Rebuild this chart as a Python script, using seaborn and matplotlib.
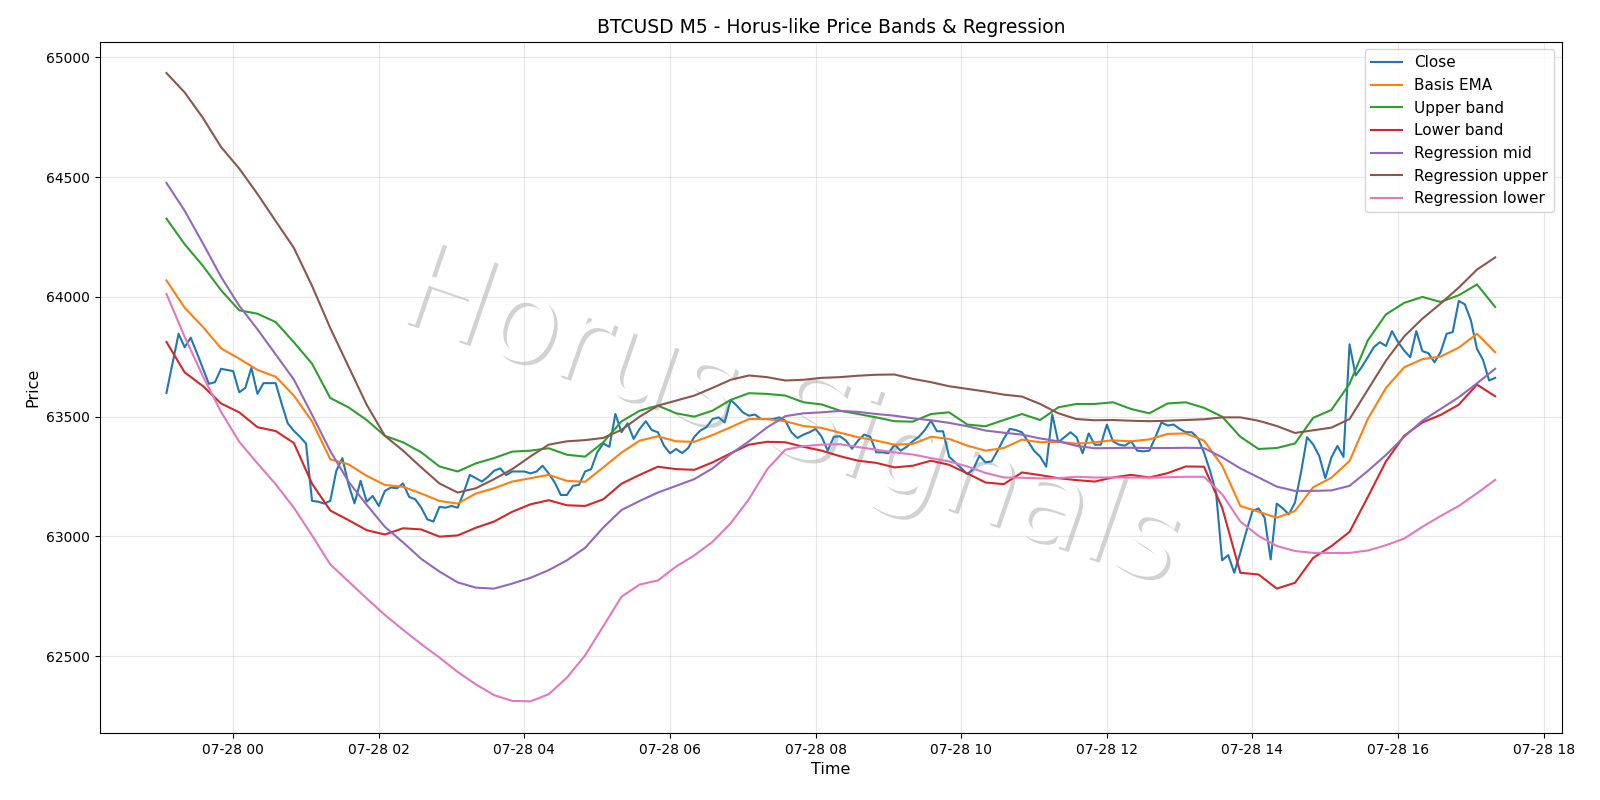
import matplotlib
matplotlib.use("Agg")
import matplotlib.pyplot as plt
import matplotlib.dates as mdates
import matplotlib.patheffects as pe
import pandas as pd
import seaborn as sns

# M5 closes, 23:05 -> 17:20
close = [
    63599, 63723, 63846, 63790, 63830, 63767, 63702, 63637, 63644, 63700,
    63695, 63690, 63602, 63620, 63704, 63595, 63640, 63640, 63640, 63553,
    63472, 63441, 63416, 63388, 63148, 63145, 63137, 63148, 63274, 63327,
    63218, 63138, 63232, 63145, 63169, 63127, 63190, 63204, 63201, 63221,
    63165, 63155, 63120, 63071, 63062, 63123, 63120, 63127, 63120, 63183,
    63257, 63243, 63229, 63249, 63274, 63284, 63256, 63271, 63271, 63271,
    63263, 63271, 63295, 63263, 63225, 63173, 63173, 63211, 63215, 63271,
    63281, 63351, 63388, 63374, 63511, 63435, 63472, 63407, 63449, 63481,
    63444, 63435, 63379, 63347, 63365, 63348, 63369, 63416, 63442, 63456,
    63490, 63497, 63476, 63570, 63546, 63518, 63504, 63509, 63490, 63490,
    63490, 63497, 63483, 63435, 63411, 63425, 63435, 63449, 63416, 63358,
    63416, 63418, 63400, 63366, 63400, 63425, 63416, 63351, 63351, 63347,
    63383, 63358, 63374, 63397, 63416, 63444, 63483, 63439, 63439, 63333,
    63309, 63285, 63260, 63281, 63337, 63309, 63313, 63358, 63407, 63449,
    63444, 63435, 63397, 63358, 63333, 63291, 63509, 63393, 63414, 63435,
    63414, 63347, 63430, 63383, 63383, 63467, 63397, 63383, 63379, 63397,
    63358, 63355, 63358, 63414, 63476, 63463, 63467, 63449, 63435, 63435,
    63411, 63351, 63274, 63183, 62900, 62922, 62848, 62932, 63022, 63106,
    63117, 63078, 62904, 63137, 63117, 63092, 63141, 63267, 63414, 63384,
    63336, 63243, 63329, 63378, 63332, 63802, 63672, 63707, 63748, 63790,
    63811, 63795, 63857, 63811, 63776, 63748, 63857, 63774, 63765, 63727,
    63769, 63846, 63853, 63983, 63969, 63902, 63783, 63737, 63651, 63662,
]

# indicator lines, read every 15 min (23:05 -> 17:20)
basis_ema = [
    64069, 63955, 63875, 63785, 63742, 63695, 63667, 63588, 63480, 63322,
    63301, 63253, 63215, 63207, 63179, 63148, 63137, 63179, 63201, 63229,
    63243, 63257, 63232, 63228, 63288, 63350, 63400, 63418, 63397, 63395,
    63423, 63456, 63490, 63490, 63481, 63461, 63453, 63433, 63414, 63400,
    63383, 63386, 63416, 63407, 63379, 63358, 63369, 63404, 63393, 63395,
    63387, 63393, 63401, 63397, 63405, 63428, 63430, 63400, 63295, 63127,
    63103, 63078, 63106, 63205, 63245, 63315, 63490, 63620, 63706, 63740,
    63751, 63788, 63846, 63769,
]
upper_band = [
    64327, 64220, 64130, 64028, 63944, 63930, 63895, 63811, 63721, 63578,
    63539, 63486, 63420, 63393, 63351, 63292, 63271, 63305, 63327, 63354,
    63358, 63368, 63341, 63333, 63393, 63480, 63525, 63546, 63514, 63500,
    63525, 63570, 63598, 63595, 63588, 63560, 63551, 63525, 63511, 63497,
    63481, 63479, 63511, 63518, 63467, 63460, 63486, 63511, 63486, 63539,
    63553, 63553, 63560, 63532, 63514, 63555, 63560, 63537, 63500, 63416,
    63365, 63369, 63388, 63495, 63528, 63637, 63818, 63927, 63975, 64000,
    63979, 64007, 64052, 63958,
]
lower_band = [
    63812, 63685, 63628, 63555, 63518, 63456, 63440, 63390, 63220, 63108,
    63068, 63026, 63008, 63034, 63029, 62999, 63004, 63036, 63062, 63103,
    63134, 63151, 63130, 63127, 63155, 63220, 63257, 63291, 63281, 63278,
    63309, 63347, 63383, 63395, 63393, 63374, 63358, 63335, 63316, 63307,
    63288, 63295, 63316, 63299, 63263, 63225, 63218, 63267, 63256, 63243,
    63235, 63229, 63246, 63257, 63246, 63264, 63292, 63291, 63120, 62848,
    62841, 62782, 62806, 62910, 62959, 63019, 63164, 63313, 63420, 63476,
    63507, 63550, 63634, 63585,
]
reg_mid = [
    64476, 64360, 64224, 64084, 63963, 63865, 63760, 63655, 63508, 63357,
    63229, 63132, 63040, 62975, 62906, 62853, 62808, 62786, 62782, 62803,
    62827, 62859, 62900, 62952, 63037, 63110, 63148, 63183, 63211, 63239,
    63284, 63344, 63397, 63455, 63502, 63514, 63518, 63524, 63520, 63511,
    63504, 63493, 63485, 63474, 63460, 63442, 63433, 63425, 63409, 63397,
    63378, 63368, 63369, 63370, 63369, 63369, 63370, 63369, 63330, 63284,
    63246, 63208, 63190, 63190, 63192, 63211, 63273, 63340, 63416, 63483,
    63532, 63581, 63639, 63700,
]
reg_upper = [
    64935, 64854, 64748, 64626, 64536, 64430, 64317, 64205, 64046, 63870,
    63710, 63550, 63420, 63358, 63288, 63221, 63183, 63201, 63239, 63281,
    63334, 63383, 63397, 63402, 63411, 63445, 63500, 63546, 63567, 63588,
    63620, 63654, 63672, 63665, 63651, 63654, 63662, 63665, 63671, 63675,
    63676, 63658, 63644, 63627, 63616, 63605, 63592, 63584, 63553, 63514,
    63490, 63485, 63486, 63483, 63481, 63483, 63486, 63489, 63497, 63497,
    63483, 63461, 63432, 63443, 63454, 63490, 63612, 63734, 63835, 63909,
    63972, 64039, 64114, 64165,
]
reg_lower = [
    64013, 63833, 63670, 63520, 63395, 63305, 63218, 63120, 63004, 62883,
    62812, 62741, 62672, 62610, 62550, 62494, 62434, 62382, 62337, 62313,
    62311, 62341, 62410, 62503, 62625, 62748, 62799, 62816, 62874, 62921,
    62977, 63055, 63155, 63280, 63362, 63377, 63383, 63385, 63373, 63362,
    63351, 63342, 63327, 63313, 63292, 63265, 63246, 63245, 63242, 63243,
    63249, 63246, 63246, 63246, 63245, 63247, 63249, 63249, 63176, 63062,
    63002, 62960, 62939, 62931, 62931, 62931, 62941, 62963, 62991, 63040,
    63085, 63127, 63180, 63236,
]

start = pd.Timestamp("2024-07-27 23:05")
t_close = pd.date_range(start, periods=len(close), freq="5min")
t_ind = pd.date_range(start, periods=len(basis_ema), freq="15min")

series = [
    ("Close", t_close, close, "#1f77b4"),
    ("Basis EMA", t_ind, basis_ema, "#ff7f0e"),
    ("Upper band", t_ind, upper_band, "#2ca02c"),
    ("Lower band", t_ind, lower_band, "#d62728"),
    ("Regression mid", t_ind, reg_mid, "#9467bd"),
    ("Regression upper", t_ind, reg_upper, "#8c564b"),
    ("Regression lower", t_ind, reg_lower, "#e377c2"),
]

fig, ax = plt.subplots(figsize=(16, 8), dpi=100)
for name, t, vals, col in series:
    sns.lineplot(x=t, y=vals, ax=ax, label=name, color=col, linewidth=1.5, zorder=3)

ax.xaxis.set_major_locator(mdates.HourLocator(interval=2))
ax.xaxis.set_major_formatter(mdates.DateFormatter("%m-%d %H"))
ax.grid(True, alpha=0.3)
ax.set_title("BTCUSD M5 - Horus-like Price Bands & Regression", fontsize=13.5)
ax.set_xlabel("Time", fontsize=11.5)
ax.set_ylabel("Price", fontsize=11.5)
ax.legend(loc="upper right", fontsize=11)

# watermark (under the lines)
ax.text(0.494, 0.476, "Horus Signals", transform=fig.transFigure, fontsize=86,
        color="white", rotation=-19, ha="center", va="center", zorder=1,
        path_effects=[pe.withSimplePatchShadow(offset=(2.5, -2.5), alpha=0.25)])

fig.subplots_adjust(left=0.0625, right=0.976, top=0.948, bottom=0.084)
plt.savefig("out.png")
